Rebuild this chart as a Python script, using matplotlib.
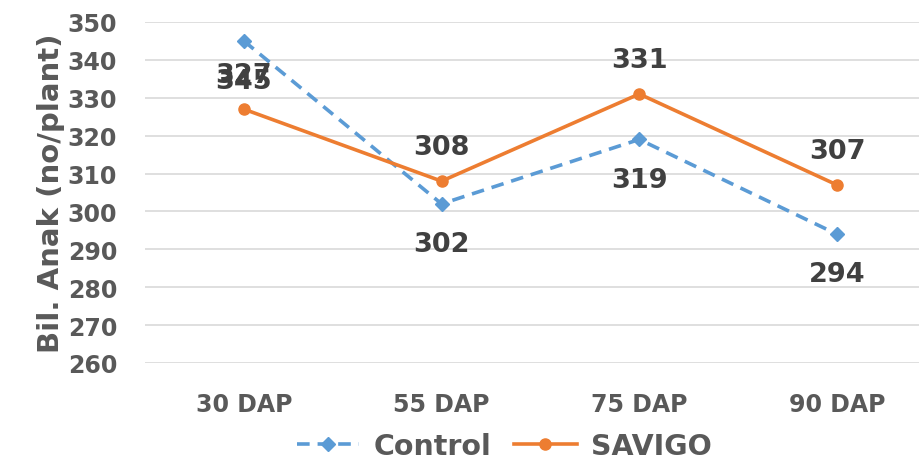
import matplotlib
matplotlib.use("Agg")
import matplotlib.pyplot as plt

categories = ["30 DAP", "55 DAP", "75 DAP", "90 DAP"]
control = [345, 302, 319, 294]
savigo = [327, 308, 331, 307]
y_ticks = list(range(260, 351, 10))

BLUE = "#5B9BD5"
ORANGE = "#ED7D31"
LABEL = "#404040"
TICK = "#595959"

plt.rcParams['font.family'] = ['DejaVu Sans']
plt.rcParams['font.weight'] = 'bold'

fig = plt.figure(figsize=(9.2, 4.6), dpi=100)
ax = fig.add_axes([145 / 920, 1 - 364 / 460, 1 - 145 / 920, (364 - 23) / 460])

x = list(range(len(categories)))
ax.plot(x, control, color=BLUE, lw=2.6, ls=(0, (3.5, 2.2)), marker='D', ms=7,
        label='Control', zorder=3)
ax.plot(x, savigo, color=ORANGE, lw=2.6, marker='o', ms=8,
        label='SAVIGO', zorder=3)

for xi, v in zip(x, control):
    ax.annotate(str(v), (xi, v), xytext=(0, -29), textcoords='offset points',
                ha='center', va='center', fontsize=19.5, fontweight='bold', color=LABEL)
for xi, v in zip(x, savigo):
    ax.annotate(str(v), (xi, v), xytext=(0, 24.5), textcoords='offset points',
                ha='center', va='center', fontsize=19.5, fontweight='bold', color=LABEL)

ax.set_xlim(-0.5, 3.42)
ax.set_ylim(260, 350)
ax.set_yticks(y_ticks)
ax.set_xticks(x)
ax.set_xticklabels(categories)
ax.tick_params(axis='both', length=0, labelsize=17, labelcolor=TICK)
ax.tick_params(axis='x', pad=21)
ax.tick_params(axis='y', pad=20)
for lbl in ax.get_xticklabels() + ax.get_yticklabels():
    lbl.set_fontweight('bold')
ax.grid(True, axis='y', color='#D9D9D9', lw=1.2)
ax.set_axisbelow(True)
for s in ax.spines.values():
    s.set_visible(False)

ax.set_ylabel('Bil. Anak (no/plant)', fontsize=21, fontweight='bold', color=TICK, labelpad=2)

leg = fig.legend(loc='center', bbox_to_anchor=(0.548, 0.028), ncol=2, frameon=False,
                 fontsize=20.5, handlelength=2.2, columnspacing=0.8, handletextpad=0.5)
for t in leg.get_texts():
    t.set_color(TICK)
    t.set_fontweight('bold')

fig.savefig('out.png', dpi=100)
